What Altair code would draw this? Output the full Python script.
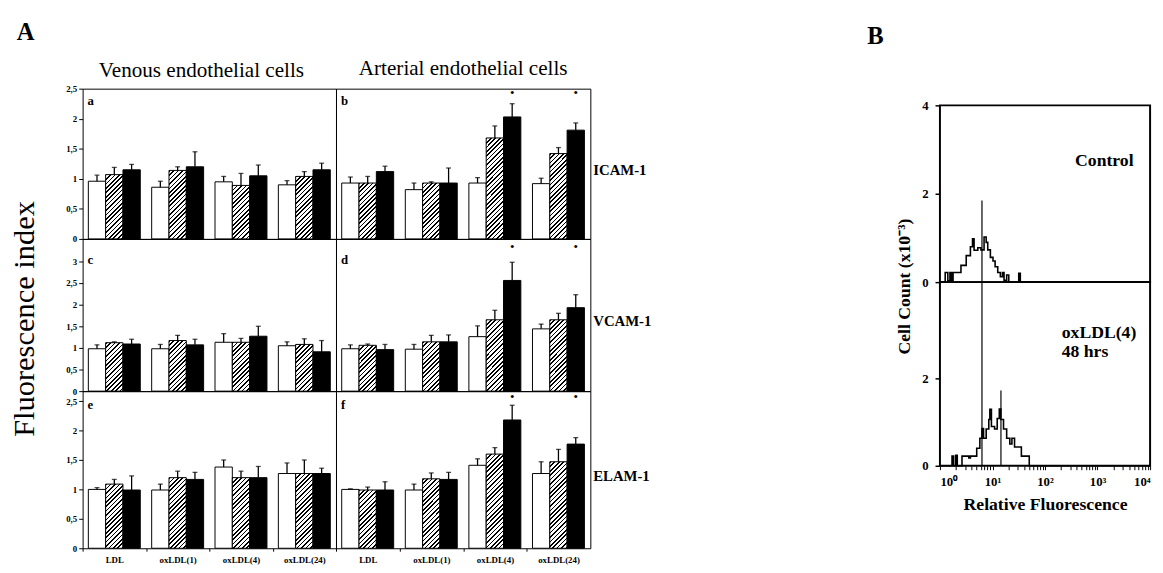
import altair as alt
import pandas as pd

FONT = "Liberation Serif"

# ---------------- data: panel A (fluorescence index, mean and SD) ----------------
categories = ["LDL", "oxLDL(1)", "oxLDL(4)", "oxLDL(24)"]
series = ["open", "hatched", "filled"]
panel_letters = ["a", "b", "c", "d", "e", "f"]
row_labels = ["ICAM-1", "VCAM-1", "ELAM-1"]
column_titles = ["Venous endothelial cells", "Arterial endothelial cells"]

icam_venous_mean = [[0.96, 1.07, 1.15], [0.86, 1.14, 1.20], [0.95, 0.89, 1.05], [0.90, 1.04, 1.15]]
icam_venous_sd = [[0.10, 0.12, 0.09], [0.10, 0.06, 0.25], [0.09, 0.20, 0.18], [0.07, 0.08, 0.11]]
icam_arterial_mean = [[0.93, 0.93, 1.12], [0.82, 0.93, 0.93], [0.93, 1.68, 2.03], [0.92, 1.42, 1.81]]
icam_arterial_sd = [[0.10, 0.11, 0.09], [0.11, 0.02, 0.25], [0.09, 0.20, 0.22], [0.09, 0.10, 0.12]]
vcam_venous_mean = [[0.98, 1.12, 1.09], [0.98, 1.17, 1.07], [1.13, 1.13, 1.27], [1.05, 1.08, 0.91]]
vcam_venous_sd = [[0.09, 0.02, 0.11], [0.10, 0.12, 0.13], [0.20, 0.09, 0.23], [0.09, 0.13, 0.26]]
vcam_arterial_mean = [[0.98, 1.06, 0.96], [0.97, 1.14, 1.14], [1.26, 1.65, 2.56], [1.44, 1.65, 1.93]]
vcam_arterial_sd = [[0.09, 0.03, 0.12], [0.11, 0.15, 0.16], [0.25, 0.22, 0.42], [0.11, 0.15, 0.30]]
elam_venous_mean = [[1.00, 1.09, 0.99], [0.99, 1.20, 1.17], [1.38, 1.20, 1.20], [1.27, 1.27, 1.27]]
elam_venous_sd = [[0.03, 0.08, 0.24], [0.10, 0.11, 0.12], [0.12, 0.11, 0.19], [0.18, 0.23, 0.09]]
elam_arterial_mean = [[1.00, 0.99, 0.99], [0.99, 1.18, 1.17], [1.41, 1.60, 2.18], [1.27, 1.47, 1.77]]
elam_arterial_sd = [[0.01, 0.05, 0.14], [0.10, 0.10, 0.12], [0.11, 0.11, 0.25], [0.20, 0.21, 0.11]]
significant_categories = ["oxLDL(4)", "oxLDL(24)"]   # starred (arterial, filled bars)

row_domain_max = [2.5, 3.52, 2.67]
row_tick_values = [[0, 0.5, 1, 1.5, 2, 2.5], [0, 0.5, 1, 1.5, 2, 2.5, 3], [0, 0.5, 1, 1.5, 2, 2.5]]

# ---------------- data: panel B (flow cytometry histograms) ----------------
control_fluor = [1, 1.259, 1.413, 1.549, 1.660, 1.778, 2.512, 3.162, 3.802, 4.169, 4.467, 5.248,
                 6.026, 6.918, 7.586, 8.128, 9.120, 10.23, 11.22, 12.59, 14.13, 15.49, 16.60,
                 18.62, 20.42, 31.62, 33.88, 10000]
control_count = [0, 0.22, 0.03, 0.22, 0.03, 0.22, 0.38, 0.60, 0.80, 0.98, 0.72, 0.78, 0.73, 1.02,
                 0.90, 0.73, 0.56, 0.48, 0.35, 0.22, 0.12, 0.22, 0.04, 0.16, 0.0, 0.20, 0.0, 0.0]
oxldl_fluor = [1, 1.698, 1.820, 1.995, 2.138, 2.630, 3.548, 3.802, 5.012, 5.754, 6.310, 6.761,
               7.586, 8.511, 8.913, 9.550, 10.96, 12.30, 13.49, 14.45, 16.22, 18.62, 21.38,
               23.44, 26.30, 35.48, 50.12, 10000]
oxldl_count = [0, 0.22, 0, 0.24, 0, 0.22, 0.18, 0.22, 0.40, 0.63, 0.85, 0.63, 0.84, 1.06, 1.29,
               0.90, 0.84, 1.08, 1.30, 1.06, 0.84, 0.63, 0.50, 0.63, 0.43, 0.22, 0, 0]
control_marker_fluor = 6.31
control_marker_top = 1.85
oxldl_marker_fluor = 14.5
oxldl_marker_top = 1.72
hist_top_max = 4.0
hist_bottom_max = 4.2

# ---------------- layout (pixels) ----------------
PANEL_W = [258, 259]
ROW_H = [153, 155, 160]
PAD_IN, PAD_OUT = 0.18, 0.09
LETTER_Y = [17, 26, 18]
STAR_Y = [4, 8, 6]
HIST_W = 214
HIST_H = [180, 187]
COL_TITLE_OFFSET = [3.5, 7.5]
COL_TITLE_DX = [-8, 0]
A_ORIGIN = (82, 84)          # top-left of panel A's frame on the page
B_ORIGIN = (944, 101)        # top-left of panel B's frame on the page
PAGE = 8                     # page margin
A_RIGHT_BOUND = 669
B_LEFT_BOUND = 864
B_GAP_FIX = 10

# diagonal hatch built as a striped linear gradient
SPAN, PERIOD, LINE_W = 160.0, 4.5, 1.7


def hatch_stops():
    out = []
    k = 0
    while k * PERIOD < SPAN:
        a = round(k * PERIOD / SPAN, 4)
        b = round(min((k * PERIOD + LINE_W) / SPAN, 1.0), 4)
        c = round(min((k + 1) * PERIOD / SPAN, 1.0), 4)
        out += [{"offset": a, "color": "black"}, {"offset": b, "color": "black"},
                {"offset": b, "color": "white"}, {"offset": c, "color": "white"}]
        k += 1
    return out


STOPS = hatch_stops()


def hatch(w, h):
    d = w * w + h * h
    return {"gradient": "linear", "x1": 0, "y1": 0,
            "x2": round(SPAN * w / d, 5), "y2": round(SPAN * h / d, 5), "stops": STOPS}


def anchor(x, y):
    # invisible zero-length rule that fixes the layout bounds
    return alt.Chart(pd.DataFrame({"k": [0]})).mark_rule(opacity=0, strokeWidth=1).encode(
        x=alt.value(x), x2=alt.value(x), y=alt.value(y), y2=alt.value(y + 1))


def label(text, x, y, size, weight="bold", align="left", baseline="alphabetic"):
    return alt.Chart(pd.DataFrame({"t": [text]})).mark_text(
        fontSize=size, fontWeight=weight, align=align, baseline=baseline).encode(
        text="t:N", x=alt.value(x), y=alt.value(y))


panel_data = [(icam_venous_mean, icam_venous_sd), (icam_arterial_mean, icam_arterial_sd),
              (vcam_venous_mean, vcam_venous_sd), (vcam_arterial_mean, vcam_arterial_sd),
              (elam_venous_mean, elam_venous_sd), (elam_arterial_mean, elam_arterial_sd)]


def bar_panel(idx):
    mean, sd = panel_data[idx]
    row, col = idx // 2, idx % 2
    w, h, ymax = PANEL_W[col], ROW_H[row], row_domain_max[row]
    step = w / (len(categories) - PAD_IN + 2 * PAD_OUT)
    bar_w = step * (1 - PAD_IN) / len(series)
    recs = []
    for i, c in enumerate(categories):
        for j, s in enumerate(series):
            m = mean[i][j]
            fill = "white" if j == 0 else ("black" if j == 2 else hatch(bar_w, m * h / ymax))
            recs.append({"category": c, "series": s, "mean": m, "upper": round(m + sd[i][j], 3),
                         "fill": fill})
    df = pd.DataFrame(recs)

    if row == 2:
        xaxis = alt.Axis(title=None, labelAngle=0, labelFontSize=9, labelFontWeight="bold",
                         tickSize=3, tickOffset=-step / 2, labelOffset=step / 2, labelPadding=5,
                         domain=False)
    else:
        xaxis = None

    ylab = dict(values=row_tick_values[row],
                labelExpr="replace(format(datum.value, '~g'), '.', ',')",
                labelFontSize=9, labelFontWeight="bold", tickSize=4, labelPadding=2, domain=False)
    if col == 0 and row == 1:
        yaxis = alt.Axis(title="Fluorescence index", titleFontSize=31, titleFontWeight="normal",
                         titleX=-59, titleY=81, titleAlign="center", titleBaseline="middle", **ylab)
    elif col == 0:
        yaxis = alt.Axis(title=None, **ylab)
    else:
        yaxis = None

    xenc = alt.X("category:N", sort=categories,
                 scale=alt.Scale(paddingInner=PAD_IN, paddingOuter=PAD_OUT), axis=xaxis)
    xo = alt.XOffset("series:N", sort=series, scale=alt.Scale(paddingInner=0, paddingOuter=0))
    yscale = alt.Scale(domain=[0, ymax], nice=False)

    bars = alt.Chart(df).mark_bar(stroke="black", strokeWidth=1).encode(
        x=xenc, xOffset=xo,
        y=alt.Y("mean:Q", scale=yscale, axis=yaxis),
        fill=alt.Fill("fill:N", scale=None, legend=None))
    err = alt.Chart(df).mark_rule(color="black", strokeWidth=1.3).encode(
        x=xenc, xOffset=xo, y=alt.Y("mean:Q", scale=yscale, axis=yaxis), y2="upper:Q")
    cap = alt.Chart(df).mark_tick(color="black", thickness=1.3, size=5).encode(
        x=xenc, xOffset=xo, y=alt.Y("upper:Q", scale=yscale, axis=yaxis))
    layers = [bars, err, cap, label(panel_letters[idx], 5, LETTER_Y[row], 13)]
    if col == 1:
        sig = df[(df["series"] == "filled") & (df["category"].isin(significant_categories))][
            ["category", "series"]]
        stars = alt.Chart(sig).mark_text(text="•", fontSize=13, baseline="middle").encode(
            x=xenc, xOffset=xo, y=alt.value(STAR_Y[row]))
        layers += [stars, label(row_labels[row], w + 3, h / 2 + 6, 15, baseline="middle")]
    top = A_ORIGIN[1] + sum(ROW_H[:row])
    if idx == 2:
        # page-corner anchor and the figure letter "A"
        layers += [anchor(PAGE - A_ORIGIN[0], PAGE - top),
                   label("A", 15 - A_ORIGIN[0], 34 - top, 25)]
    if idx == 3:
        layers += [anchor(A_RIGHT_BOUND - A_ORIGIN[0] - w, 10)]
    props = dict(width=w, height=h)
    if row == 0:
        props["title"] = alt.TitleParams(column_titles[col], fontSize=21.5, fontWeight="normal",
                                         anchor="middle", offset=COL_TITLE_OFFSET[col],
                                         dx=COL_TITLE_DX[col])
    return alt.layer(*layers).properties(**props)


panels = [bar_panel(i) for i in range(6)]
panel_a = alt.concat(*panels, columns=2, spacing=0, bounds="flush")

LOG_TICKS = [m * 10 ** e for e in range(4) for m in range(1, 10)] + [10000]
LOG_LABELS = ("datum.value == 1 ? '10⁰' : datum.value == 10 ? '10¹' : datum.value == 100 ? '10²'"
              " : datum.value == 1000 ? '10³' : datum.value == 10000 ? '10⁴' : ''")


def hist_panel(fluor, count, k, ymax, yvals, rules, notes):
    bottom = k == 1
    df = pd.DataFrame({"fluorescence": fluor, "count": count})
    xscale = alt.Scale(type="log", domain=[1, 10000], nice=False)
    yscale = alt.Scale(domain=[0, ymax], nice=False)
    if bottom:
        xaxis = alt.Axis(values=LOG_TICKS, labelExpr=LOG_LABELS, title="Relative Fluorescence",
                         titleFontSize=18, titleFontWeight="bold", titlePadding=8,
                         labelFontSize=13, labelFontWeight="bold", tickSize=4, labelPadding=6,
                         labelFlush=True, labelOverlap=False, domain=False)
        yaxis = alt.Axis(values=yvals, title=None, labelFontSize=13, labelFontWeight="bold",
                         tickSize=5, tickWidth=1.5, labelPadding=7, domain=False)
    else:
        xaxis = None
        yaxis = alt.Axis(values=yvals, title="Cell Count (x10⁻³)", titleFontSize=18,
                         titleFontWeight="bold", titleX=-36, titleY=184, titleAlign="center",
                         titleBaseline="middle", labelFontSize=13, labelFontWeight="bold",
                         tickSize=5, tickWidth=1.5, labelPadding=7, domain=False)
    xenc = lambda: alt.X("fluorescence:Q", scale=xscale, axis=xaxis)
    line = alt.Chart(df).mark_line(interpolate="step-after", color="black", strokeWidth=1.6).encode(
        x=xenc(), y=alt.Y("count:Q", scale=yscale, axis=yaxis))
    rdf = pd.DataFrame({"fluorescence": [r[0] for r in rules], "base": [0] * len(rules),
                        "top": [r[1] for r in rules]})
    rl = alt.Chart(rdf).mark_rule(color="black", strokeWidth=1.2).encode(
        x=xenc(), y=alt.Y("base:Q", scale=yscale, axis=yaxis), y2="top:Q")
    ndf = pd.DataFrame({"fluorescence": [n[0] for n in notes], "count": [n[1] for n in notes],
                        "t": [n[2] for n in notes]})
    nt = alt.Chart(ndf).mark_text(fontSize=18, fontWeight="bold", align="left",
                                  baseline="middle").encode(
        x=xenc(), y=alt.Y("count:Q", scale=yscale, axis=yaxis), text="t:N")
    layers = [line, rl, nt]
    if bottom:
        top = B_ORIGIN[1] + HIST_H[0]
        layers += [anchor(B_LEFT_BOUND - B_ORIGIN[0], PAGE - top),
                   label("B", 870 - B_ORIGIN[0], 39 - top, 25)]
    return alt.layer(*layers).properties(
        width=HIST_W, height=HIST_H[k], view=alt.ViewBackground(stroke="black", strokeWidth=2))


hist_top = hist_panel(control_fluor, control_count, 0, hist_top_max, [0, 2, 4],
                      [(control_marker_fluor, control_marker_top)],
                      [(373, 2.73, "Control")])
hist_bottom = hist_panel(oxldl_fluor, oxldl_count, 1, hist_bottom_max, [0, 2],
                         [(control_marker_fluor, hist_bottom_max), (oxldl_marker_fluor, oxldl_marker_top)],
                         [(208, 3.04, "oxLDL(4)"), (208, 2.60, "48 hrs")])
spacer = alt.Chart(pd.DataFrame({"v": [0]})).mark_point(opacity=0).encode(
    x=alt.X("v:Q", axis=None), y=alt.Y("v:Q", axis=None)).properties(
    width=HIST_W, height=B_ORIGIN[1] - A_ORIGIN[1], view=alt.ViewBackground(stroke="transparent"))
panel_b = alt.vconcat(spacer, hist_top, hist_bottom, spacing=0, bounds="flush")

chart = alt.hconcat(panel_a, panel_b, spacing=B_LEFT_BOUND - A_RIGHT_BOUND + B_GAP_FIX).properties(
    padding={"left": 0, "top": 0, "right": 0, "bottom": 0}
).configure(font=FONT).configure_view(stroke="black", strokeWidth=1).configure_axis(
    labelColor="black", titleColor="black", tickColor="black", domainColor="black", grid=False,
    labelFont=FONT, titleFont=FONT
).configure_title(font=FONT, color="black").configure_text(font=FONT, color="black")

chart.save("out.html", embed_options={"renderer": "svg", "actions": False})
